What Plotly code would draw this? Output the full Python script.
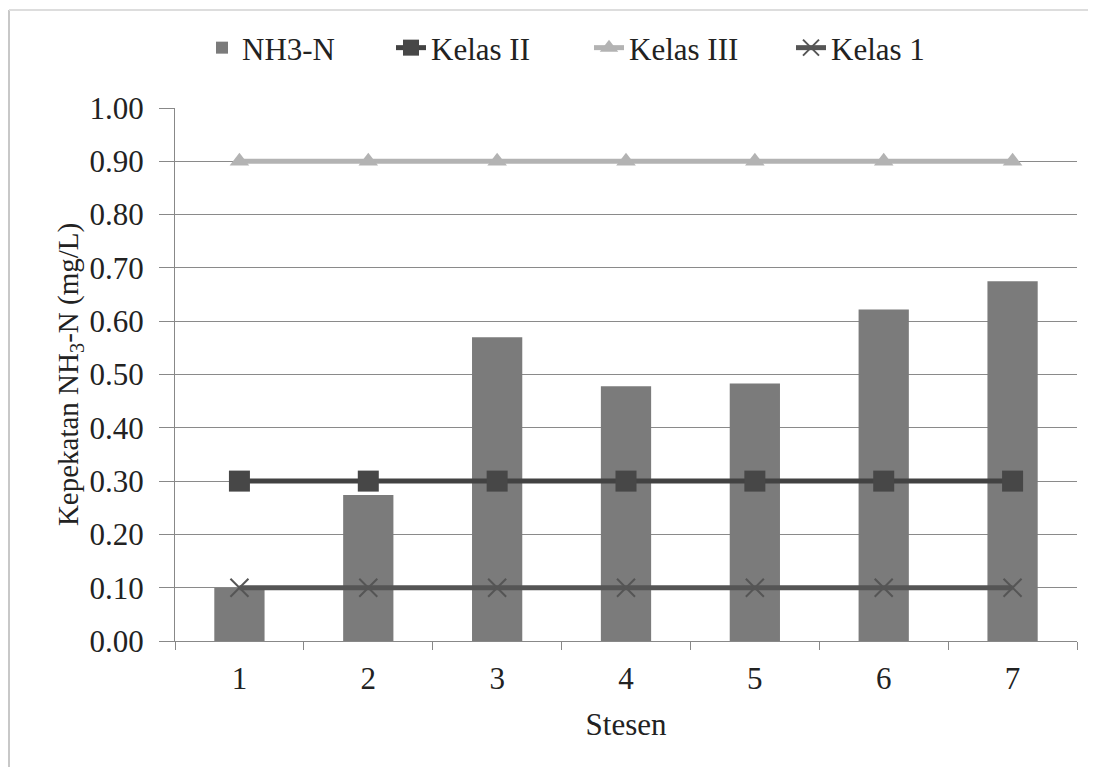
import plotly.graph_objects as go

stations = ["1", "2", "3", "4", "5", "6", "7"]
nh3n = [0.10, 0.274, 0.570, 0.478, 0.483, 0.622, 0.675]
kelas_ii = [0.30] * 7
kelas_iii = [0.90] * 7
kelas_1 = [0.10] * 7
y_ticks = [0.0, 0.1, 0.2, 0.3, 0.4, 0.5, 0.6, 0.7, 0.8, 0.9, 1.0]

FONT = "Liberation Serif, Times New Roman, serif"

# page body has an 8px margin; compensate so the plot area lands at 175..1077 x 108..641
OFF = 8
L, R, T, B = 175 - OFF, 19, 108 - OFF, 126
W, H = 1096 - OFF, 767 - OFF
pw, ph = W - L - R, H - T - B

def px_x(x):
    return (x - OFF - L) / pw

def px_y(y):
    return 1 - (y - OFF - T) / ph

fig = go.Figure()
fig.add_trace(go.Bar(x=stations, y=nh3n, name="NH3-N", legend="legend",
                     marker=dict(color="#7b7b7b", line=dict(width=0))))
fig.add_trace(go.Scatter(x=stations, y=kelas_ii, name="Kelas II", mode="lines+markers",
                         legend="legend2",
                         line=dict(color="#424242", width=5),
                         marker=dict(symbol="square", size=21, color="#474747")))
fig.add_trace(go.Scatter(x=stations, y=kelas_iii, name="Kelas III", mode="lines+markers",
                         legend="legend3",
                         line=dict(color="#b3b3b3", width=5),
                         marker=dict(symbol="triangle-up", size=17, color="#b3b3b3")))
fig.add_trace(go.Scatter(x=stations, y=kelas_1, name="Kelas 1", mode="lines+markers",
                         legend="legend4",
                         line=dict(color="#555555", width=5),
                         marker=dict(symbol="x-thin-open", size=18,
                                     line=dict(color="#555555", width=2))))

def leg(text_start):
    return dict(orientation="h", x=px_x(text_start - 41), y=px_y(48),
                xanchor="left", yanchor="middle", bgcolor="rgba(0,0,0,0)",
                font=dict(family=FONT, size=31, color="#222222"))

fig.update_layout(
    width=W, height=H,
    margin=dict(l=L, r=R, t=T, b=B),
    paper_bgcolor="white", plot_bgcolor="white",
    font=dict(family=FONT, size=31, color="#222222"),
    bargap=0.61,
    showlegend=True,
    legend=leg(243),
    legend2=leg(432),
    legend3=leg(630),
    legend4=leg(832),
    xaxis=dict(type="category", tickson="boundaries", ticks="outside", ticklen=8,
               tickcolor="#888888", showline=True, linecolor="#888888", linewidth=1,
               showgrid=False, tickfont=dict(family=FONT, size=31), ticklabelstandoff=10,
               title=dict(text="Stesen", font=dict(family=FONT, size=31), standoff=18)),
    yaxis=dict(range=[0, 1.0], tickvals=y_ticks, tickformat=".2f",
               ticks="outside", ticklen=15, tickcolor="#888888",
               showline=True, linecolor="#888888", linewidth=1,
               showgrid=True, gridcolor="#8a8a8a", gridwidth=1,
               zeroline=False, tickfont=dict(family=FONT, size=31), ticklabelstandoff=9,
               title=dict(text="Kepekatan NH<sub>3</sub>-N (mg/L)",
                          font=dict(family=FONT, size=29), standoff=2)),
    shapes=[
        dict(type="line", xref="paper", yref="paper",
             x0=px_x(9), x1=px_x(9), y0=px_y(10), y1=px_y(767),
             line=dict(color="#c8c8c8", width=2)),
        dict(type="line", xref="paper", yref="paper",
             x0=px_x(9), x1=px_x(1096), y0=px_y(10), y1=px_y(10),
             line=dict(color="#dddddd", width=2)),
    ],
)

fig.write_html("out.html")
